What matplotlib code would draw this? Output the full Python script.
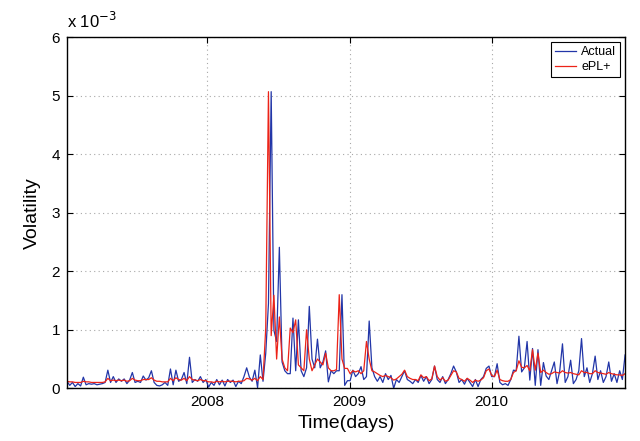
import matplotlib
matplotlib.use('Agg')
import matplotlib.pyplot as plt
import pandas as pd

plt.rcParams['font.family'] = ['Liberation Sans', 'DejaVu Sans']

# weekly volatility, in units of 1e-3
actual = [
    0.12, 0.05, 0.10, 0.03, 0.08, 0.04, 0.19, 0.06, 0.08, 0.07,
    0.08, 0.06, 0.07, 0.08, 0.10, 0.31, 0.10, 0.20, 0.10, 0.16,
    0.12, 0.16, 0.08, 0.14, 0.27, 0.10, 0.12, 0.10, 0.21, 0.14,
    0.18, 0.30, 0.10, 0.05, 0.04, 0.06, 0.10, 0.05, 0.33, 0.06,
    0.31, 0.12, 0.15, 0.27, 0.08, 0.53, 0.10, 0.15, 0.12, 0.20,
    0.10, 0.15, 0.02, 0.10, 0.05, 0.15, 0.06, 0.14, 0.04, 0.15,
    0.10, 0.14, 0.03, 0.12, 0.08, 0.20, 0.35, 0.19, 0.12, 0.31,
    0.01, 0.57, 0.12, 0.60, 1.45, 5.07, 0.99, 0.80, 2.41, 0.45,
    0.30, 0.25, 0.25, 1.20, 0.30, 1.17, 0.30, 0.20, 0.35, 1.40,
    0.50, 0.35, 0.84, 0.35, 0.45, 0.64, 0.11, 0.30, 0.25, 0.30,
    0.30, 1.60, 0.05, 0.13, 0.13, 0.31, 0.20, 0.25, 0.37, 0.15,
    0.20, 1.15, 0.35, 0.20, 0.12, 0.20, 0.10, 0.25, 0.15, 0.22,
    0.00, 0.15, 0.10, 0.20, 0.30, 0.15, 0.12, 0.08, 0.15, 0.10,
    0.22, 0.12, 0.20, 0.08, 0.15, 0.38, 0.15, 0.10, 0.20, 0.08,
    0.15, 0.25, 0.38, 0.28, 0.10, 0.15, 0.07, 0.17, 0.10, 0.03,
    0.15, 0.03, 0.15, 0.20, 0.34, 0.38, 0.20, 0.20, 0.42, 0.10,
    0.06, 0.08, 0.05, 0.15, 0.31, 0.30, 0.89, 0.28, 0.35, 0.80,
    0.14, 0.68, 0.05, 0.66, 0.05, 0.44, 0.21, 0.15, 0.30, 0.45,
    0.08, 0.30, 0.76, 0.10, 0.20, 0.48, 0.08, 0.15, 0.30, 0.85,
    0.20, 0.35, 0.10, 0.25, 0.55, 0.15, 0.30, 0.10, 0.20, 0.45,
    0.12, 0.25, 0.10, 0.30, 0.15, 0.57,
]

epl = [
    0.12, 0.11, 0.11, 0.10, 0.10, 0.10, 0.12, 0.11, 0.11, 0.10,
    0.10, 0.10, 0.10, 0.10, 0.11, 0.17, 0.13, 0.14, 0.13, 0.14,
    0.13, 0.14, 0.12, 0.13, 0.17, 0.14, 0.13, 0.13, 0.15, 0.15,
    0.15, 0.18, 0.14, 0.12, 0.12, 0.11, 0.11, 0.11, 0.17, 0.13,
    0.18, 0.15, 0.14, 0.17, 0.13, 0.20, 0.15, 0.14, 0.13, 0.15,
    0.13, 0.13, 0.11, 0.11, 0.10, 0.12, 0.11, 0.12, 0.11, 0.12,
    0.12, 0.12, 0.11, 0.12, 0.12, 0.13, 0.17, 0.16, 0.14, 0.17,
    0.13, 0.20, 0.15, 1.03, 5.07, 0.90, 1.59, 0.50, 1.22, 0.50,
    0.35, 0.30, 1.03, 0.95, 1.17, 0.40, 0.35, 0.30, 1.00, 0.50,
    0.30, 0.40, 0.50, 0.45, 0.40, 0.60, 0.35, 0.30, 0.30, 0.32,
    1.60, 0.50, 0.34, 0.34, 0.25, 0.30, 0.28, 0.30, 0.25, 0.30,
    0.80, 0.50, 0.30, 0.28, 0.25, 0.22, 0.20, 0.22, 0.20, 0.18,
    0.14, 0.16, 0.20, 0.24, 0.31, 0.20, 0.17, 0.15, 0.15, 0.13,
    0.23, 0.18, 0.20, 0.13, 0.16, 0.38, 0.20, 0.14, 0.18, 0.12,
    0.14, 0.22, 0.30, 0.28, 0.17, 0.15, 0.12, 0.17, 0.14, 0.10,
    0.14, 0.12, 0.14, 0.18, 0.30, 0.33, 0.22, 0.20, 0.31, 0.15,
    0.13, 0.12, 0.12, 0.15, 0.27, 0.30, 0.47, 0.36, 0.35, 0.39,
    0.30, 0.66, 0.31, 0.60, 0.27, 0.31, 0.27, 0.24, 0.25, 0.28,
    0.27, 0.26, 0.30, 0.27, 0.26, 0.27, 0.25, 0.24, 0.23, 0.30,
    0.27, 0.27, 0.25, 0.25, 0.30, 0.27, 0.26, 0.25, 0.24, 0.27,
    0.25, 0.24, 0.23, 0.23, 0.22, 0.25,
]

dates = pd.date_range('2007-01-05', periods=len(actual), freq='7D')
year_ticks = pd.to_datetime(['2008-01-01', '2009-01-01', '2010-01-01'])
year_labels = ['2008', '2009', '2010']
y_ticks = [0, 1, 2, 3, 4, 5, 6]

fig = plt.figure(figsize=(6.4, 4.41), dpi=100)
ax = fig.add_axes([0.1047, 0.1195, 0.872, 0.796])

ax.plot(dates, actual, color='#2236a8', lw=0.9, label='Actual')
ax.plot(dates, epl, color='#ec2318', lw=0.9, label='ePL+')

ax.set_xlim(dates[0], dates[-1])
ax.set_ylim(0, 6)
ax.set_xticks(year_ticks)
ax.set_xticklabels(year_labels)
ax.set_yticks(y_ticks)

# matlab style dotted grid, ticks pointing in on all four sides
ax.grid(True, color='#a8a8a8', linestyle=(0, (1, 3)), linewidth=0.8)
ax.tick_params(direction='in', length=4, width=0.8, top=True, right=True,
               labelsize=11, pad=5)
for s in ax.spines.values():
    s.set_linewidth(1.0)

ax.set_xlabel('Time(days)', fontsize=14, labelpad=4)
ax.set_ylabel('Volatility', fontsize=14, labelpad=8)
fig.text(0.1047, 0.93, 'x 10$^{-3}$', fontsize=12, ha='left', va='bottom')

leg = ax.legend(loc='upper right', fontsize=9, fancybox=False, framealpha=1,
                edgecolor='black', borderpad=0.3, handlelength=1.7,
                labelspacing=0.25, handletextpad=0.4, borderaxespad=0.4)
leg.get_frame().set_linewidth(0.8)

fig.savefig('out.png', dpi=100)
